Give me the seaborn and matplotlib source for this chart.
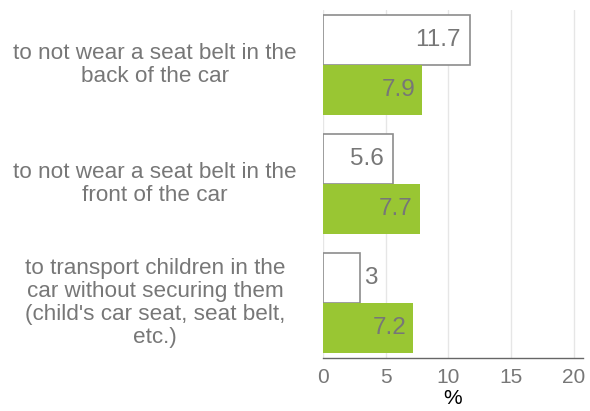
import pandas as pd
import matplotlib
matplotlib.use("Agg")
import matplotlib.pyplot as plt
import matplotlib.transforms as mtransforms
import seaborn as sns

# data
categories = [
    "to not wear a seat belt in the\nback of the car",
    "to not wear a seat belt in the\nfront of the car",
    "to transport children in the\ncar without securing them\n(child's car seat, seat belt,\netc.)",
]
series_names = ["series 1", "series 2"]
values_first = [11.7, 5.6, 3]
values_second = [7.9, 7.7, 7.2]
x_ticks = [0, 5, 10, 15, 20]

TEXT_GREY = "#777777"
GREEN = "#99C633"

rows = []
for cat, v1, v2 in zip(categories, values_first, values_second):
    rows.append({"category": cat, "series": series_names[0], "value": v1})
    rows.append({"category": cat, "series": series_names[1], "value": v2})
df = pd.DataFrame(rows)

sns.set_style("white")
plt.rcParams["font.family"] = ["Liberation Sans", "DejaVu Sans"]

fig = plt.figure(figsize=(5.9, 4.11), dpi=100)
ax = fig.add_axes([0.547, 0.129, 0.441, 0.847])

sns.barplot(data=df, x="value", y="category", hue="series", orient="h",
            palette=["white", GREEN], width=0.84, legend=False, ax=ax)

# style each series and write the values
for i, cont in enumerate(ax.containers):
    for bar in cont:
        if i == 0:
            bar.set_facecolor("white")
            bar.set_edgecolor("#8c8c8c")
            bar.set_linewidth(1.2)
            pad_in = 0.75
        else:
            bar.set_facecolor(GREEN)
            bar.set_edgecolor("none")
            pad_in = 0.55
        w = bar.get_width()
        yc = bar.get_y() + bar.get_height() / 2
        if w > 4:
            ax.text(w - pad_in, yc, f"{w:g}", ha="right", va="center",
                    fontsize=17.5, color=TEXT_GREY)
        else:
            ax.text(w + 0.3, yc, f"{w:g}", ha="left", va="center",
                    fontsize=17.5, color=TEXT_GREY)

ax.set_xlim(0, 20.7)
ax.set_ylim(2.46, -0.46)
ax.set_xticks(x_ticks)
ax.set_xticklabels([str(t) for t in x_ticks], fontsize=15, color=TEXT_GREY)
ax.tick_params(axis="x", direction="out", length=5, width=1, color="#666666", pad=2)
ax.set_xlabel("%", fontsize=15, color="black", labelpad=2)
ax.set_ylabel("")
ax.set_yticks([])

ax.grid(axis="x", color="#e6e6e6", linewidth=1)
ax.set_axisbelow(True)
for side in ["top", "right", "left"]:
    ax.spines[side].set_visible(False)
ax.spines["bottom"].set_color("#666666")
ax.spines["bottom"].set_linewidth(1)

# category labels centred left of the axes
trans = mtransforms.blended_transform_factory(fig.transFigure, ax.transData)
for i, cat in enumerate(categories):
    ax.text(155 / 590, i, cat, transform=trans, ha="center", va="center",
            multialignment="center", fontsize=16.2, color=TEXT_GREY,
            linespacing=1.12)

fig.savefig("out.png", dpi=100)
